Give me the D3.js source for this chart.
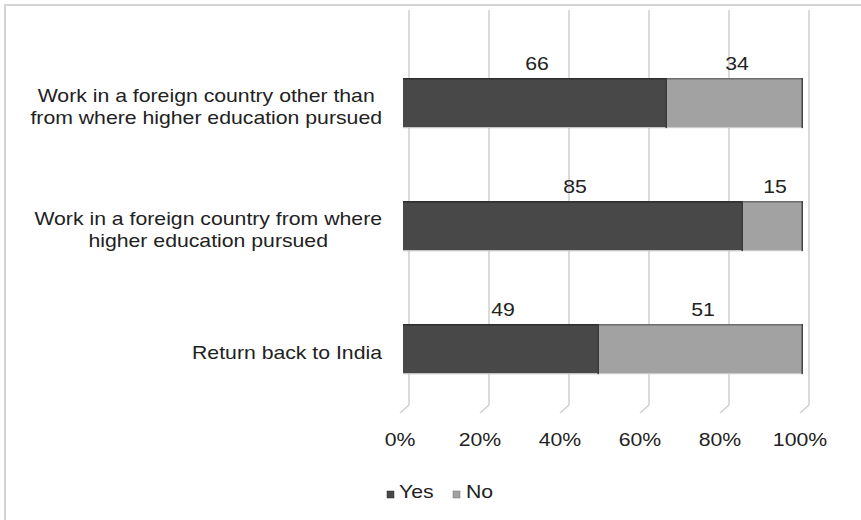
<!DOCTYPE html>
<html>
<head>
<meta charset="utf-8">
<script src="https://cdn.jsdelivr.net/npm/d3@7"></script>
<style>
  body { margin: 0; background: #fff; }
  svg { display: block; font-family: "Liberation Sans", Arial, sans-serif; }
</style>
</head>
<body>
<svg id="chart" width="861" height="520"></svg>
<script>
// values
const categories = [
    ["Work in a foreign country other than", "from where higher education pursued"],
    ["Work in a foreign country from where", "higher education pursued"],
    ["Return back to India"]
];
const seriesNames = ["Yes", "No"];
const yesValues = [66, 85, 49];
const noValues = [34, 15, 51];
const tickValues = [0, 20, 40, 60, 80, 100];
const tickLabels = ["0%", "20%", "40%", "60%", "80%", "100%"];

const colors = {Yes: "#484848", No: "#a2a2a2"};
const edge = {Yes: "#2e2e2e", No: "#6e6e6e"};
const textColor = "#222";
const sx = 1.18; // the picture's text is stretched sideways
const fontSize = 18;

const svg = d3.select("#chart");

// outer border of the chart area
svg.append("rect")
    .attr("x", 5).attr("y", 5)
    .attr("width", 900).attr("height", 600)
    .attr("fill", "none")
    .attr("stroke", "#d4d4d4")
    .attr("stroke-width", 2);

const x = d3.scaleLinear().domain([0, 100]).range([400, 800]);
const y = d3.scaleBand()
    .domain(d3.range(categories.length))
    .range([16.5, 435.6])
    .paddingInner(0.593)
    .paddingOuter(0.5);

const depth = {dx: 9, dy: 8}; // fake 3d back wall offset
const barShift = 3;
const wallTop = 10, wallBottom = 405;

// gridlines on the back wall with the little floor slant
svg.append("g")
    .selectAll("path")
    .data(tickValues)
    .join("path")
    .attr("d", d => `M${x(d) + depth.dx},${wallTop} L${x(d) + depth.dx},${wallBottom} L${x(d)},${wallBottom + depth.dy}`)
    .attr("fill", "none")
    .attr("stroke", "#cfcfcf")
    .attr("stroke-width", 1.5);

// helper: text stretched sideways
function stretchedText(g, tx, ty, str, anchor, size) {
    return g.append("text")
        .attr("transform", `translate(${tx},${ty}) scale(${sx},1)`)
        .attr("text-anchor", anchor)
        .attr("font-size", size)
        .attr("fill", textColor)
        .text(str);
}

// stacked bars
const stacked = categories.map((c, i) => ({i, Yes: yesValues[i], No: noValues[i]}));
const series = d3.stack().keys(seriesNames)(stacked);

const barsG = svg.append("g");
series.forEach(s => {
    const g = barsG.append("g");
    s.forEach((d, i) => {
        const x0 = x(d[0]) + barShift, x1 = x(d[1]) + barShift;
        const top = y(i), h = y.bandwidth();
        g.append("rect")
            .attr("x", x0).attr("y", top)
            .attr("width", x1 - x0).attr("height", h)
            .attr("fill", colors[s.key]);
        // thin top face
        g.append("rect")
            .attr("x", x0).attr("y", top)
            .attr("width", x1 - x0).attr("height", 1.5)
            .attr("fill", edge[s.key]);
        // bottom shade
        g.append("rect")
            .attr("x", x0).attr("y", top + h - 1)
            .attr("width", x1 - x0).attr("height", 1)
            .attr("fill", "#cfcfcf");
        // segment divider / right face
        g.append("rect")
            .attr("x", x1 - 1.5).attr("y", top)
            .attr("width", 1.5).attr("height", h)
            .attr("fill", s.key === "No" ? "#444" : "#3a3a3a");
    });
});

// data labels
const labelsG = svg.append("g");
series.forEach(s => {
    s.forEach((d, i) => {
        const mid = (x(d[0]) + x(d[1])) / 2 + barShift + 2;
        stretchedText(labelsG, mid, y(i) - 8, d.data[s.key], "middle", fontSize);
    });
});

// category labels: block right aligned, lines centred inside it
const catG = svg.append("g");
const rightEdge = 382, lineGap = 22;
categories.forEach((lines, i) => {
    const cy = y(i) + y.bandwidth() / 2 + 3.5;
    const tmp = lines.map(l => stretchedText(catG, 0, 0, l, "start", fontSize));
    const widths = tmp.map(t => t.node().getComputedTextLength() * sx);
    tmp.forEach(t => t.remove());
    const blockW = d3.max(widths);
    const cx = rightEdge - blockW / 2;
    const firstBase = cy - (lines.length - 1) * lineGap / 2 + 6;
    lines.forEach((l, k) => {
        stretchedText(catG, cx, firstBase + k * lineGap, l, "middle", fontSize);
    });
});

// x axis tick labels
const axisG = svg.append("g");
tickValues.forEach((v, i) => {
    stretchedText(axisG, x(v), 446, tickLabels[i], "middle", fontSize);
});

// legend
const legendG = svg.append("g");
const legendPos = [{sq: 387, tx: 399}, {sq: 453, tx: 466}];
seriesNames.forEach((name, i) => {
    legendG.append("rect")
        .attr("x", legendPos[i].sq).attr("y", 491)
        .attr("width", 7).attr("height", 7)
        .attr("fill", colors[name])
        .attr("stroke", edge[name])
        .attr("stroke-width", 0.5);
    stretchedText(legendG, legendPos[i].tx, 498, name, "start", fontSize);
});
</script>
</body>
</html>
